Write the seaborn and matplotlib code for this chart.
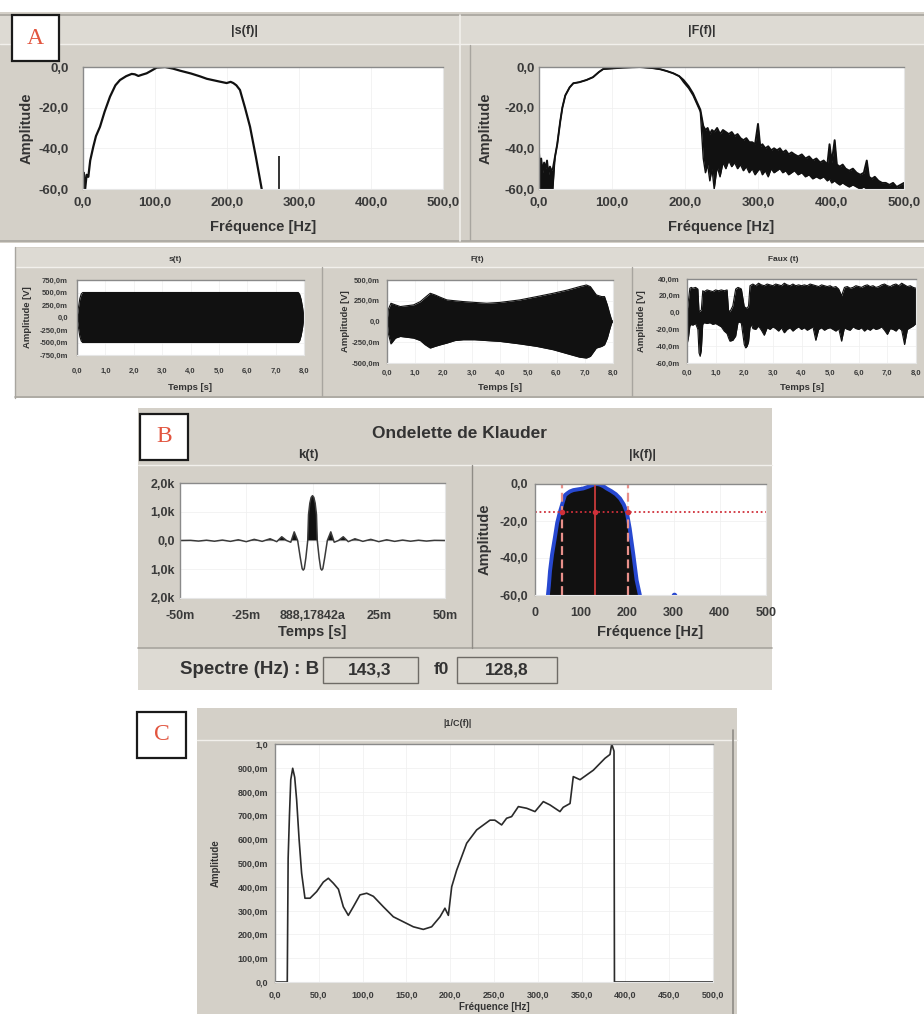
import numpy as np
import matplotlib
matplotlib.use("Agg")
import matplotlib.pyplot as plt
import seaborn as sns
from matplotlib.patches import Rectangle
from matplotlib.lines import Line2D

# ---------------- DATA ----------------
# |s(f)| (dB)
sf_f = [0, 1, 3, 5, 7.4, 10, 14.3, 18, 23.6, 30, 37.5, 45, 51.4, 60, 67.6, 72, 76.9, 82, 88.4, 95,
        102.3, 113.9, 125, 134.7, 150, 162.5, 172, 181, 190, 199.5, 205, 208.8, 213, 218, 225, 232, 240, 248.2]
sf_db = [-60, -52, -60, -53, -54, -46, -39.2, -34, -29.4, -22, -14.6, -9, -6.4, -4.5, -3.4, -3.6, -4.4, -3.8, -3.1, -1.8,
         -0.3, 0, -0.8, -1.8, -3.2, -4.6, -5.8, -6.5, -7.2, -7.9, -7.3, -7.9, -9.0, -11.3, -20, -29.4, -44, -60]
sf_spike_f = [272.7]
sf_spike_db = [-44]

# |F(f)| (dB) upper / lower envelope
Ff_f = [0, 1, 3, 5, 7, 9, 11, 13, 15, 17, 19,
        22, 25, 29, 32, 36, 42, 47, 55, 65, 74,
        82, 88, 100, 115, 138, 155, 166, 175, 184, 192,
        198, 205, 211, 216, 221, 225, 228, 231, 234, 237,
        240, 244, 248, 252, 256, 260, 264, 268, 272, 276,
        280, 284, 288, 292, 296, 300, 303, 306, 310, 314,
        318, 322, 326, 330, 334, 338, 342, 346, 350, 355,
        360, 365, 370, 375, 380, 385, 390, 395, 398, 401,
        405, 408, 412, 416, 420, 425, 430, 435, 440, 445,
        449, 452, 456, 460, 465, 470, 475, 480, 485, 490,
        495, 500]
Ff_up = [-42, -48, -45, -52, -47, -50, -46, -53, -49, -51, -50,
         -44, -38, -27, -20, -14, -10, -8, -7.5, -6.4, -5,
         -2.5, -1, -0.7, -0.3, 0, -0.5, -1.1, -2, -3.1, -4.5,
         -6.4, -9.5, -13, -17, -21, -29, -31, -30, -33, -31,
         -32, -30, -33, -31, -32, -33, -32, -34, -33, -35,
         -36, -35, -37, -37, -38, -28, -39, -38, -40, -39,
         -41, -40, -41, -40, -42, -41, -43, -42, -43, -44,
         -43, -45, -44, -46, -45, -47, -46, -48, -38, -47,
         -36, -48, -49, -48, -50, -51, -50, -52, -53, -52,
         -46, -54, -55, -54, -56, -57, -57, -58, -57, -59,
         -58, -57]
Ff_lo = [-60, -60, -60, -60, -60, -60, -60, -60, -60, -60, -60,
         -44, -38, -27, -20, -14, -10, -8, -7.5, -6.4, -5,
         -2.5, -1, -0.7, -0.3, 0, -0.5, -1.1, -2, -3.1, -4.5,
         -7.5, -10.5, -14, -18, -22, -45, -52, -48, -56, -50,
         -60, -49, -54, -47, -50, -46, -49, -47, -50, -48,
         -51, -49, -52, -50, -53, -51, -50, -53, -51, -54,
         -50, -52, -51, -50, -52, -51, -53, -52, -51, -53,
         -52, -54, -53, -55, -54, -55, -54, -56, -55, -57,
         -56, -57, -58, -57, -58, -59, -58, -59, -60, -59,
         -60, -60, -60, -60, -60, -60, -60, -60, -60, -60,
         -60, -60]

# s(t) envelope (V)
st_t = [0, 0.05, 0.1, 0.15, 0.2, 7.8, 7.85, 7.9, 7.95, 8.0]
st_up = [0, 0.2, 0.38, 0.47, 0.5, 0.5, 0.46, 0.36, 0.2, 0]
st_lo = [0, -0.2, -0.38, -0.47, -0.5, -0.5, -0.46, -0.36, -0.2, 0]

# F(t) envelope (V)
Ft_t = [0, 0.05, 0.14, 0.3, 0.47, 0.7, 0.94, 1.18, 1.35, 1.53, 1.7, 1.9, 2.12, 2.4, 2.7, 3.1,
        3.53, 4.0, 4.7, 5.3, 5.88, 6.4, 6.82, 7.06, 7.2, 7.41, 7.6, 7.7, 7.8, 7.88, 7.95, 8.0]
Ft_up = [0, 0.15, 0.22, 0.2, 0.18, 0.19, 0.2, 0.24, 0.29, 0.34, 0.32, 0.29, 0.26, 0.25, 0.24, 0.23,
         0.22, 0.23, 0.26, 0.3, 0.34, 0.38, 0.42, 0.44, 0.42, 0.32, 0.3, 0.3, 0.2, 0.1, 0.02, 0]
Ft_lo = [0, -0.15, -0.27, -0.2, -0.18, -0.19, -0.2, -0.23, -0.28, -0.32, -0.3, -0.28, -0.26, -0.23, -0.22, -0.22,
         -0.23, -0.24, -0.27, -0.3, -0.34, -0.39, -0.43, -0.44, -0.42, -0.32, -0.3, -0.28, -0.2, -0.1, -0.02, 0]

# Faux(t) envelope (mV)
Fa_t = [0.0, 0.05, 0.1, 0.15, 0.2, 0.3, 0.38, 0.42, 0.46, 0.5,
        0.55, 0.6, 0.7, 0.8, 0.9, 1.0, 1.1, 1.2, 1.3, 1.4,
        1.45, 1.5, 1.6, 1.7, 1.78, 1.85, 1.9, 2.0, 2.05, 2.1,
        2.15, 2.2, 2.25, 2.3, 2.4, 2.5, 2.6, 2.7, 2.8, 2.9,
        3.0, 3.1, 3.2, 3.3, 3.4, 3.5, 3.6, 3.7, 3.8, 3.9,
        4.0, 4.1, 4.2, 4.3, 4.4, 4.5, 4.6, 4.7, 4.8, 4.9,
        5.0, 5.1, 5.2, 5.3, 5.4, 5.5, 5.6, 5.7, 5.8, 5.9,
        6.0, 6.1, 6.2, 6.3, 6.4, 6.5, 6.6, 6.7, 6.8, 6.9,
        7.0, 7.1, 7.2, 7.3, 7.4, 7.5, 7.6, 7.7, 7.8, 7.9,
        8.0]
Fa_up = [0, 15, 29, 30, 29, 30, 28, 1, 2, 3,
         26, 25, 27, 26, 25, 27, 26, 27, 26, 27,
         3, 1, 8, 28, 30, 29, 28, 7, 6, 5,
         8, 32, 33, 34, 32, 35, 33, 32, 34, 33,
         32, 34, 33, 32, 35, 33, 32, 34, 32, 33,
         32, 33, 32, 34, 33, 32, 31, 33, 32, 31,
         32, 30, 31, 28, 20, 30, 31, 29, 30, 32,
         31, 30, 32, 33, 31, 32, 30, 31, 33, 34,
         32, 31, 33, 34, 32, 35, 33, 31, 32, 30,
         29]
Fa_lo = [-38, -30, -16, -14, -15, -13, -20, -48, -52, -45,
         -14, -12, -13, -12, -14, -13, -15, -17, -22, -25,
         -30, -34, -33, -28, -12, -11, -13, -38, -42, -40,
         -35, -18, -14, -19, -20, -16, -21, -27, -18, -20,
         -17, -19, -22, -18, -24, -20, -18, -22, -19, -17,
         -20, -18, -21, -19, -17, -33, -20, -18, -21, -19,
         -18, -20, -22, -19, -34, -18, -20, -21, -17, -19,
         -20, -18, -22, -19, -21, -18, -20, -19, -17, -21,
         -26, -19, -20, -22, -18, -21, -38, -20, -18, -16,
         -13]

# k(t) Klauder wavelet (time in ms)
kt_t = [-50, -46, -43, -40, -37, -34, -31, -28, -25, -22,
        -19, -16, -13.5, -11.6, -9.8, -8.2, -6.9, -5.6, -4.6, -3.9,
        -3.5, -3.1, -2.5, -1.8, -1.5, -1.0, -0.5, 0, 0.5, 1.0,
        1.5, 1.8, 2.5, 3.1, 3.5, 3.9, 4.6, 5.6, 6.9, 8.2,
        9.8, 11.6, 13.5, 16, 19, 22, 25, 28, 31, 34,
        37, 40, 43, 46, 50]
kt_v = [0, 5, -20, 10, -25, 15, -30, 25, -40, 40,
        -30, 60, -40, 130, 0, -60, 300, 0, -600, -980,
        -1030, -980, -600, 0, 900, 1300, 1500, 1560, 1500, 1300,
        900, 0, -600, -980, -1030, -980, -600, 0, 300, -60,
        0, 130, -40, 60, -30, 40, -40, 25, -30, 15,
        -25, 10, -20, 5, 0]

# |k(f)| (dB)
kf_f = [28, 30, 32.5, 37, 43, 48, 54, 60, 65, 70, 75.8, 83, 95, 104.6, 115,
        125, 133.5, 140, 148, 155, 165, 175, 184, 192, 198.5, 205, 213, 220, 227]
kf_db = [-60, -55, -47, -38, -29, -21, -15, -10, -6, -5, -4, -3.3, -2.8, -2.4, -1.5,
         -0.5, 0, -0.3, -1.2, -2.4, -3.8, -5.5, -7.8, -11, -15, -24, -38.4, -52, -60]
kf_band = [57.5, 201.0]
kf_f0 = [130.0]
kf_level = [-15.3]
kf_dot_f = [300]
kf_dot_db = [-60]
spectre_B = "143,3"
spectre_f0 = "128,8"

# |1/C(f)|
c_f = [0, 14, 15, 16.5, 18, 20.2, 22.5, 24.7, 27.5, 30.4,
       34.2, 40, 47.6, 55.2, 60.9, 66.6, 72.4, 78, 83.7, 89.4,
       97, 104.7, 112.3, 123.7, 135.1, 146.5, 157.9, 169.3, 178.8, 188.4,
       194, 197.9, 201.7, 207.4, 218.8, 230.2, 245.4, 251, 258.7, 264.4,
       270.1, 277.8, 287.3, 296.8, 306.3, 313.9, 325.3, 329, 336.8, 340.5,
       348.2, 363.4, 376.7, 382.4, 384.4, 387, 387.5, 500]
c_v = [0, 0, 0.52, 0.7, 0.85, 0.898, 0.86, 0.765, 0.6, 0.457,
       0.352, 0.352, 0.38, 0.42, 0.436, 0.415, 0.39, 0.316, 0.28, 0.316,
       0.366, 0.373, 0.36, 0.316, 0.274, 0.253, 0.232, 0.221, 0.232, 0.274,
       0.31, 0.28, 0.4, 0.47, 0.583, 0.639, 0.68, 0.68, 0.66, 0.688,
       0.695, 0.737, 0.73, 0.716, 0.758, 0.744, 0.716, 0.734, 0.75, 0.863,
       0.85, 0.89, 0.94, 0.956, 1.0, 0.97, 0, 0]

# tick labels
db_ticks = [0, -20, -40, -60]
db_labels = ["0,0", "-20,0", "-40,0", "-60,0"]
hz_ticks = [0, 100, 200, 300, 400, 500]
hz_labels = ["0,0", "100,0", "200,0", "300,0", "400,0", "500,0"]
hz_labels_int = ["0", "100", "200", "300", "400", "500"]
t_ticks = [0, 1, 2, 3, 4, 5, 6, 7, 8]
t_labels = ["0,0", "1,0", "2,0", "3,0", "4,0", "5,0", "6,0", "7,0", "8,0"]
st_yt = [0.75, 0.5, 0.25, 0, -0.25, -0.5, -0.75]
st_yl = ["750,0m", "500,0m", "250,0m", "0,0", "-250,0m", "-500,0m", "-750,0m"]
Ft_yt = [0.5, 0.25, 0, -0.25, -0.5]
Ft_yl = ["500,0m", "250,0m", "0,0", "-250,0m", "-500,0m"]
Fa_yt = [40, 20, 0, -20, -40, -60]
Fa_yl = ["40,0m", "20,0m", "0,0", "-20,0m", "-40,0m", "-60,0m"]
kt_xt = [-50, -25, 0, 25, 50]
kt_xl = ["-50m", "-25m", "888,17842a", "25m", "50m"]
kt_yt = [2000, 1000, 0, -1000, -2000]
kt_yl = ["2,0k", "1,0k", "0,0", "1,0k", "2,0k"]
c_xt = [0, 50, 100, 150, 200, 250, 300, 350, 400, 450, 500]
c_xl = ["0,0", "50,0", "100,0", "150,0", "200,0", "250,0", "300,0", "350,0", "400,0", "450,0", "500,0"]
c_yt = [0, 0.1, 0.2, 0.3, 0.4, 0.5, 0.6, 0.7, 0.8, 0.9, 1.0]
c_yl = ["0,0", "100,0m", "200,0m", "300,0m", "400,0m", "500,0m", "600,0m", "700,0m", "800,0m", "900,0m", "1,0"]

# ---------------- FIGURE ----------------
sns.set_theme(style="white")
plt.rcParams['font.family'] = ['Liberation Sans', 'DejaVu Sans']

W, H = 924, 1014
fig = plt.figure(figsize=(W / 100, H / 100), dpi=100)
fig.patch.set_facecolor('white')

GRAY = '#d4d0c8'
LIGHT = '#dddad3'
EDGE = '#8f8c86'
TICKC = '#3a3a3a'
LABC = '#333333'
INK = '#111111'


def rect(x0, y0, x1, y1, fc, ec='none', lw=0, z=-5):
    fig.add_artist(Rectangle((x0 / W, 1 - y1 / H), (x1 - x0) / W, (y1 - y0) / H,
                             transform=fig.transFigure, facecolor=fc, edgecolor=ec,
                             linewidth=lw, zorder=z))


def hl(x0, x1, y, color=EDGE, lw=1.0, z=-4):
    fig.add_artist(Line2D([x0 / W, x1 / W], [1 - y / H, 1 - y / H], color=color, lw=lw, zorder=z))


def vl(x, y0, y1, color=EDGE, lw=1.0, z=-4):
    fig.add_artist(Line2D([x / W, x / W], [1 - y0 / H, 1 - y1 / H], color=color, lw=lw, zorder=z))


def txt(x, y, s, fs, bold=True, color=LABC, **kw):
    fig.text(x / W, 1 - y / H, s, fontsize=fs, fontweight='bold' if bold else 'normal',
             color=color, ha='center', va='center', **kw)


def labelbox(x0, y0, x1, y1, letter):
    rect(x0, y0, x1, y1, 'white', '#1a1a1a', 1.6, z=5)
    fig.text((x0 + x1) / 2 / W, 1 - (y0 + y1) / 2 / H, letter, fontsize=17,
             family=['Liberation Serif', 'DejaVu Serif'], color='#e2553f',
             ha='center', va='center', zorder=6)


def new_ax(box):
    x0, y0, x1, y1 = box
    return fig.add_axes([x0 / W, 1 - y1 / H, (x1 - x0) / W, (y1 - y0) / H])


def style(ax, box, xlim, ylim, xt, xtl, yt, ytl, fs, xpad, ypad,
          xlabel=None, xlab_y=None, ylabel=None, ylab_x=None, lab_fs=10):
    x0, y0, x1, y1 = box
    ax.set_facecolor('white')
    ax.set_xlim(*xlim)
    ax.set_ylim(*ylim)
    ax.set_xticks(xt)
    ax.set_xticklabels(xtl, fontsize=fs, fontweight='bold', color=TICKC)
    ax.set_yticks(yt)
    ax.set_yticklabels(ytl, fontsize=fs, fontweight='bold', color=TICKC)
    ax.tick_params(axis='x', length=0, pad=xpad)
    ax.tick_params(axis='y', length=0, pad=ypad)
    ax.grid(True, color='#efefef', lw=0.5)
    ax.set_axisbelow(True)
    for s in ['top', 'left']:
        ax.spines[s].set_color('#8a8a8a')
        ax.spines[s].set_linewidth(1.0)
    for s in ['bottom', 'right']:
        ax.spines[s].set_color('#e6e6e6')
        ax.spines[s].set_linewidth(0.8)
    ax.set_xlabel(xlabel or '')
    ax.set_ylabel(ylabel or '')
    if xlabel:
        ax.xaxis.label.set_fontsize(lab_fs)
        ax.xaxis.label.set_fontweight('bold')
        ax.xaxis.label.set_color(LABC)
        ax.xaxis.set_label_coords(0.5, (y1 - xlab_y) / (y1 - y0))
        ax.xaxis.label.set_va('center')
    if ylabel:
        ax.yaxis.label.set_fontsize(lab_fs)
        ax.yaxis.label.set_fontweight('bold')
        ax.yaxis.label.set_color(LABC)
        ax.yaxis.set_label_coords((ylab_x - x0) / (x1 - x0), 0.5)
        ax.yaxis.label.set_va('center')


# ---------- Panel A backgrounds ----------
rect(0, 12, 460, 243, GRAY)
rect(460, 12, 924, 243, GRAY)
rect(0, 16, 924, 44, LIGHT)
hl(0, 924, 15, '#a8a59f', 1.2)
hl(0, 924, 44, '#f2f0ec', 1.0)
hl(0, 924, 241, '#a8a59f', 1.2)
vl(460, 15, 241, '#f2f0ec', 1.2)
vl(470, 45, 240, '#a8a59f', 1.0)

rect(15, 247, 924, 398, GRAY)
rect(15, 248, 924, 267, LIGHT)
hl(15, 924, 267, '#f2f0ec', 1.0)
hl(15, 924, 397, '#a8a59f', 1.2)
vl(15, 247, 398, '#a8a59f', 1.0)
vl(322, 267, 396, '#a8a59f', 1.0)
vl(632, 267, 396, '#a8a59f', 1.0)

# ---------- Panel B backgrounds ----------
rect(138, 408, 772, 690, GRAY)
rect(138, 648, 772, 690, LIGHT)
hl(138, 772, 465, '#f2f0ec', 1.0)
hl(138, 772, 648, '#a8a59f', 1.2)
vl(472, 465, 648, '#8f8c86', 1.0)

# ---------- Panel C backgrounds ----------
rect(197, 708, 737, 1014, GRAY)
hl(197, 737, 740, '#f2f0ec', 1.0)
vl(733, 730, 1014, '#8f8c86', 1.2)

# ---------- |s(f)| ----------
box = (83, 67, 443, 189)
ax = new_ax(box)
sns.lineplot(x=sf_f, y=sf_db, ax=ax, color=INK, lw=1.6, estimator=None, sort=False)
ax.vlines(sf_spike_f, -60, sf_spike_db, color=INK, lw=1.2)
style(ax, box, (0, 500), (-60, 0), hz_ticks, hz_labels, db_ticks, db_labels, 9.5, 6, 10.5,
      'Fréquence [Hz]', 227, 'Amplitude', 27, 10.5)
txt(245, 31, '|s(f)|', 9)

# ---------- |F(f)| ----------
box = (539, 67, 904, 189)
ax = new_ax(box)
ax.fill_between(Ff_f, Ff_lo, Ff_up, color=INK, lw=0)
sns.lineplot(x=Ff_f, y=Ff_up, ax=ax, color=INK, lw=1.4, estimator=None, sort=False)
sns.lineplot(x=Ff_f, y=Ff_lo, ax=ax, color=INK, lw=1.0, estimator=None, sort=False)
style(ax, box, (0, 500), (-60, 0), hz_ticks, hz_labels, db_ticks, db_labels, 9.5, 6, 3,
      'Fréquence [Hz]', 227, 'Amplitude', 486, 10.5)
txt(702, 31, '|F(f)|', 9)

# ---------- s(t) ----------
box = (77, 280, 304, 355)
ax = new_ax(box)
ax.fill_between(st_t, st_lo, st_up, color=INK, lw=0)
sns.lineplot(x=st_t, y=st_up, ax=ax, color=INK, lw=0.8, estimator=None, sort=False)
sns.lineplot(x=st_t, y=st_lo, ax=ax, color=INK, lw=0.8, estimator=None, sort=False)
style(ax, box, (0, 8), (-0.75, 0.75), t_ticks, t_labels, st_yt, st_yl, 5.5, 9, 6.5,
      'Temps [s]', 388, 'Amplitude [V]', 27, 6.8)
txt(175, 259, 's(t)', 6)

# ---------- F(t) ----------
box = (387, 280, 613, 363)
ax = new_ax(box)
ax.fill_between(Ft_t, Ft_lo, Ft_up, color=INK, lw=0)
sns.lineplot(x=Ft_t, y=Ft_up, ax=ax, color=INK, lw=0.8, estimator=None, sort=False)
sns.lineplot(x=Ft_t, y=Ft_lo, ax=ax, color=INK, lw=0.8, estimator=None, sort=False)
style(ax, box, (0, 8), (-0.5, 0.5), t_ticks, t_labels, Ft_yt, Ft_yl, 5.5, 5, 5,
      'Temps [s]', 388, 'Amplitude [V]', 345, 6.8)
txt(477, 259, 'F(t)', 6)

# ---------- Faux(t) ----------
box = (687, 279, 916, 363)
ax = new_ax(box)
ax.fill_between(Fa_t, Fa_lo, Fa_up, color=INK, lw=0)
sns.lineplot(x=Fa_t, y=Fa_up, ax=ax, color=INK, lw=0.8, estimator=None, sort=False)
sns.lineplot(x=Fa_t, y=Fa_lo, ax=ax, color=INK, lw=0.8, estimator=None, sort=False)
style(ax, box, (0, 8), (-60, 40), t_ticks, t_labels, Fa_yt, Fa_yl, 5.5, 5, 5,
      'Temps [s]', 388, 'Amplitude [V]', 642, 6.8)
txt(783, 259, 'Faux (t)', 6)

# ---------- k(t) ----------
box = (180, 483, 445, 598)
ax = new_ax(box)
kv = np.array(kt_v)
ax.fill_between(kt_t, kv, 0, where=kv > 0, interpolate=True, color=INK, lw=0)
sns.lineplot(x=kt_t, y=kt_v, ax=ax, color='#3a3a3a', lw=1.1, estimator=None, sort=False)
style(ax, box, (-50, 50), (-2000, 2000), kt_xt, kt_xl, kt_yt, kt_yl, 9, 8.5, 3.5,
      'Temps [s]', 632, None, None, 10.5)
txt(460, 433, 'Ondelette de Klauder', 12.5)
txt(308, 455, 'k(t)', 9.5)

# ---------- |k(f)| ----------
box = (535, 484, 766, 595)
ax = new_ax(box)
ax.fill_between(kf_f, kf_db, -60, color=INK, lw=0)
sns.lineplot(x=kf_f, y=kf_db, ax=ax, color='#2748d0', lw=2.8, estimator=None, sort=False)
ax.plot(kf_dot_f, kf_dot_db, 'o', color='#2748d0', ms=3)
ax.axhline(kf_level[0], color='#d0303a', lw=1.3, ls=(0, (1, 1.5)))
for fb in kf_band:
    ax.axvline(fb, color='#e8908a', lw=1.6, ls=(0, (4, 2)))
ax.axvline(kf_f0[0], color='#c83a3a', lw=1.3)
ax.plot(kf_band + kf_f0, kf_level * 3, 'o', color='#d0303a', ms=3)
style(ax, box, (0, 500), (-60, 0), hz_ticks, hz_labels_int, db_ticks, db_labels, 9, 8.5, 5,
      'Fréquence [Hz]', 632, 'Amplitude', 485, 10.5)
txt(642, 455, '|k(f)|', 9)

# Spectre boxes
txt(250, 670, 'Spectre (Hz) : B', 13.5)
rect(323, 657, 418, 683, '#dcd9d2', '#6e6b66', 1.0, z=-3)
txt(370, 670, spectre_B, 12.5)
txt(441, 670, 'f0', 12.5)
rect(457, 657, 557, 683, '#dcd9d2', '#6e6b66', 1.0, z=-3)
txt(507, 670, spectre_f0, 12.5)

# ---------- |1/C(f)| ----------
box = (275, 744, 713, 982)
ax = new_ax(box)
sns.lineplot(x=c_f, y=c_v, ax=ax, color='#2a2a2a', lw=1.2, estimator=None, sort=False)
style(ax, box, (0, 500), (0, 1.0), c_xt, c_xl, c_yt, c_yl, 6.5, 6, 5,
      'Fréquence [Hz]', 1007, 'Amplitude', 216, 7)
txt(457, 723, '|1/C(f)|', 6.5)

# label boxes
labelbox(12, 15, 59, 61, 'A')
labelbox(140, 414, 188, 460, 'B')
labelbox(137, 712, 186, 758, 'C')

fig.savefig('out.png', dpi=100, facecolor='white')
